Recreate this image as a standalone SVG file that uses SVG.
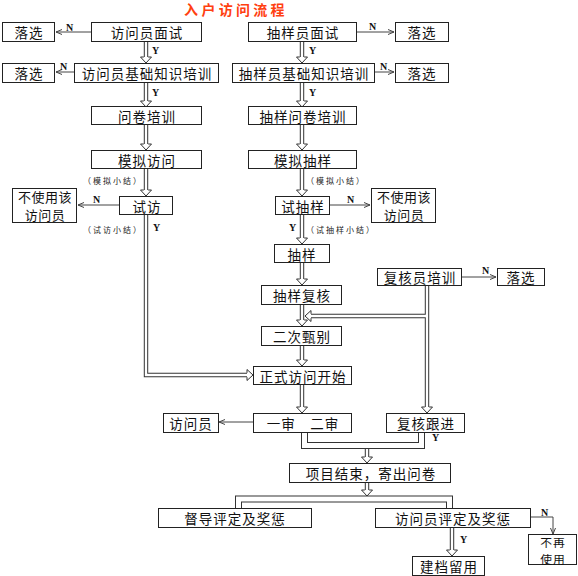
<svg xmlns="http://www.w3.org/2000/svg" width="578" height="576" viewBox="0 0 578 576">
<defs>
<style>
.b{fill:#fff;stroke:#222;stroke-width:1}
.t{font-family:"Noto Sans CJK SC","Noto Sans",sans-serif;font-size:13.5px;letter-spacing:1px;fill:#111;text-anchor:middle;dominant-baseline:central}
.t2{font-family:"Noto Sans CJK SC","Noto Sans",sans-serif;font-size:13px;letter-spacing:0.5px;fill:#111;text-anchor:middle;dominant-baseline:central}
.t3{font-family:"Noto Sans CJK SC","Noto Sans",sans-serif;font-size:11.8px;letter-spacing:1px;fill:#111;text-anchor:middle;dominant-baseline:central}
.s{font-family:"Noto Sans CJK SC",sans-serif;font-size:8px;letter-spacing:2px;fill:#222;dominant-baseline:central}
.yn{font-family:"Liberation Serif",serif;font-size:10px;fill:#111;font-weight:bold}
.do{fill:none;stroke:#333;stroke-width:4.4;stroke-linejoin:miter}
.di{fill:none;stroke:#fff;stroke-width:2.4;stroke-linejoin:miter}
.bo{fill:none;stroke:#333;stroke-width:7;stroke-linejoin:miter}
.bi{fill:none;stroke:#fff;stroke-width:5;stroke-linejoin:miter}
.sl{fill:none;stroke:#444;stroke-width:1;marker-end:url(#sa)}
</style>
<marker id="sa" viewBox="0 0 6 6" refX="6" refY="3" markerWidth="6" markerHeight="6" markerUnits="userSpaceOnUse" orient="auto">
<path d="M0,0.5 L6,3 L0,5.5" fill="none" stroke="#444" stroke-width="1"/>
</marker>
<path id="ah" d="M-2.2,-6 L-5.5,-6 L0,0 L5.5,-6 L2.2,-6" fill="#fff" stroke="#333" stroke-width="1"/>
</defs>
<rect width="578" height="576" fill="#fff"/>
<text x="236" y="9" font-family="Noto Sans CJK SC,sans-serif" font-size="14" font-weight="bold" letter-spacing="3.3" fill="#FF4010" text-anchor="middle" dominant-baseline="central">入户访问流程</text>

<g id="connectors">
<g id="outer">
<path class="do" d="M146,42 V57 M146,82 V101 M146,124 V144 M146,168 V190"/>
<path class="do" d="M146,214 V375 H247"/>
<path class="do" d="M302,42 V57 M302,82 V101 M302,124 V144 M302,168 V190 M302,214 V238 M302,263 V279 M302,304 V320 M302,345 V360 M302,384 V407"/>
<path class="do" d="M427,285 V407 M427,316 H311"/>
<path class="bo" d="M304.5,432 V445.5 H421.5 V433"/>
<path class="do" d="M367,449 V457 M367,482 V490"/>
<path class="bo" d="M238.5,508 V499 H449.5 V508"/>
<path class="do" d="M452,527 V550"/>
</g>
<g id="inner">
<path class="di" d="M146,42 V57 M146,82 V101 M146,124 V144 M146,168 V190"/>
<path class="di" d="M146,214 V375 H247"/>
<path class="di" d="M302,42 V57 M302,82 V101 M302,124 V144 M302,168 V190 M302,214 V238 M302,263 V279 M302,304 V320 M302,345 V360 M302,384 V407"/>
<path class="di" d="M427,285 V407 M427,316 H311"/>
<path class="bi" d="M304.5,432 V445.5 H421.5 V433"/>
<path class="di" d="M367,449 V457 M367,482 V490"/>
<path class="bi" d="M238.5,508 V499 H449.5 V508"/>
<path class="di" d="M452,527 V550"/>
</g>
<g id="heads">
<use href="#ah" x="146" y="63"/>
<use href="#ah" x="146" y="107"/>
<use href="#ah" x="146" y="150"/>
<use href="#ah" x="146" y="196"/>
<use href="#ah" transform="translate(253,375) rotate(-90)"/>
<use href="#ah" x="302" y="63"/>
<use href="#ah" x="302" y="107"/>
<use href="#ah" x="302" y="150"/>
<use href="#ah" x="302" y="196"/>
<use href="#ah" x="302" y="244"/>
<use href="#ah" x="302" y="285"/>
<use href="#ah" x="302" y="326"/>
<use href="#ah" x="302" y="366"/>
<use href="#ah" x="302" y="413"/>
<use href="#ah" x="427" y="413"/>
<use href="#ah" transform="translate(305,316) rotate(90)"/>
<use href="#ah" x="367" y="463"/>
<use href="#ah" x="367" y="496"/>
<use href="#ah" x="452" y="556"/>
</g>
<g id="single">
<path class="sl" d="M91,32 H56"/>
<path class="sl" d="M74,72 H56"/>
<path class="sl" d="M119,205 H78"/>
<path class="sl" d="M357,32 H394"/>
<path class="sl" d="M375,72 H394"/>
<path class="sl" d="M330,205 H370"/>
<path class="sl" d="M462,277 H496"/>
<path class="sl" d="M253,422 H219"/>
<path class="sl" d="M530,517 H553 V534"/>
</g>
<g id="labels">
<text class="yn" x="66" y="31">N</text>
<text class="yn" x="60" y="70">N</text>
<text class="yn" x="152" y="54">Y</text>
<text class="yn" x="152" y="96">Y</text>
<text class="yn" x="93" y="203">N</text>
<text class="yn" x="153" y="231">Y</text>
<text class="yn" x="369" y="30">N</text>
<text class="yn" x="380" y="70">N</text>
<text class="yn" x="309" y="54">Y</text>
<text class="yn" x="309" y="96">Y</text>
<text class="yn" x="347" y="203">N</text>
<text class="yn" x="289" y="231">Y</text>
<text class="yn" x="482" y="274">N</text>
<text class="yn" x="432" y="441">Y</text>
<text class="yn" x="541" y="516">N</text>
<text class="yn" x="460" y="543">Y</text>
<text class="s" x="83" y="180">（模拟小结）</text>
<text class="s" x="83" y="229">（试访小结）</text>
<text class="s" x="306" y="180">（模拟小结）</text>
<text class="s" x="306" y="229">（试抽样小结）</text>
</g>
</g>

<g id="n1"><rect class="b" x="2.5" y="22.5" width="52" height="19"/><text class="t" x="29" y="32">落选</text></g>
<g id="n2"><rect class="b" x="91.5" y="22.5" width="110" height="19"/><text class="t" x="147" y="32">访问员面试</text></g>
<g id="n3"><rect class="b" x="248.5" y="22.5" width="108" height="19"/><text class="t" x="303" y="32">抽样员面试</text></g>
<g id="n4"><rect class="b" x="395.5" y="22.5" width="53" height="19"/><text class="t" x="422" y="32">落选</text></g>
<g id="n5"><rect class="b" x="2.5" y="63.5" width="52" height="19"/><text class="t" x="29" y="73">落选</text></g>
<g id="n6"><rect class="b" x="74.5" y="63.5" width="144" height="19"/><text class="t" x="147" y="73">访问员基础知识培训</text></g>
<g id="n7"><rect class="b" x="232.5" y="63.5" width="142" height="19"/><text class="t" x="304" y="73">抽样员基础知识培训</text></g>
<g id="n8"><rect class="b" x="395.5" y="63.5" width="53" height="19"/><text class="t" x="422" y="73">落选</text></g>
<g id="n9"><rect class="b" x="91.5" y="106.5" width="110" height="18"/><text class="t" x="147" y="116">问卷培训</text></g>
<g id="n10"><rect class="b" x="248.5" y="106.5" width="108" height="18"/><text class="t" x="303" y="116">抽样问卷培训</text></g>
<g id="n11"><rect class="b" x="91.5" y="150.5" width="110" height="18"/><text class="t" x="147" y="160">模拟访问</text></g>
<g id="n12"><rect class="b" x="248.5" y="150.5" width="108" height="18"/><text class="t" x="303" y="160">模拟抽样</text></g>
<g id="n13"><rect class="b" x="12.5" y="188.5" width="64" height="34"/><text class="t2" x="45" y="196">不使用该</text><text class="t2" x="45" y="214">访问员</text></g>
<g id="n14"><rect class="b" x="119.5" y="196.5" width="53" height="18"/><text class="t" x="147" y="206">试访</text></g>
<g id="n15"><rect class="b" x="275.5" y="196.5" width="54" height="18"/><text class="t" x="303" y="206">试抽样</text></g>
<g id="n16"><rect class="b" x="371.5" y="188.5" width="64" height="34"/><text class="t2" x="404" y="196">不使用该</text><text class="t2" x="404" y="214">访问员</text></g>
<g id="n17"><rect class="b" x="274.5" y="244.5" width="55" height="18"/><text class="t" x="302" y="254">抽样</text></g>
<g id="n18"><rect class="b" x="377.5" y="268.5" width="84" height="17"/><text class="t" x="420" y="277">复核员培训</text></g>
<g id="n19"><rect class="b" x="497.5" y="268.5" width="47" height="17"/><text class="t" x="521" y="277">落选</text></g>
<g id="n20"><rect class="b" x="261.5" y="285.5" width="80" height="19"/><text class="t" x="302" y="295">抽样复核</text></g>
<g id="n21"><rect class="b" x="261.5" y="326.5" width="80" height="19"/><text class="t" x="302" y="336">二次甄别</text></g>
<g id="n22"><rect class="b" x="253.5" y="366.5" width="98" height="18"/><text class="t" x="303" y="376">正式访问开始</text></g>
<g id="n23"><rect class="b" x="163.5" y="413.5" width="55" height="19"/><text class="t" x="191" y="423">访问员</text></g>
<g id="n24"><rect class="b" x="253.5" y="413.5" width="98" height="19"/><text class="t" x="303" y="423">一审　二审</text></g>
<g id="n25"><rect class="b" x="386.5" y="413.5" width="78" height="19"/><text class="t" x="426" y="423">复核跟进</text></g>
<g id="n26"><rect class="b" x="289.5" y="463.5" width="161" height="19"/><text class="t" x="371" y="473">项目结束，寄出问卷</text></g>
<g id="n27"><rect class="b" x="158.5" y="508.5" width="153" height="19"/><text class="t" x="235" y="518">督导评定及奖惩</text></g>
<g id="n28"><rect class="b" x="375.5" y="508.5" width="155" height="19"/><text class="t" x="453" y="518">访问员评定及奖惩</text></g>
<g id="n29"><rect class="b" x="528.5" y="534.5" width="48" height="30"/><text class="t3" x="553" y="541.5">不再</text><text class="t3" x="553" y="558">使用</text></g>
<g id="n30"><rect class="b" x="412.5" y="556.5" width="72" height="19"/><text class="t" x="449" y="566">建档留用</text></g>
</svg>
